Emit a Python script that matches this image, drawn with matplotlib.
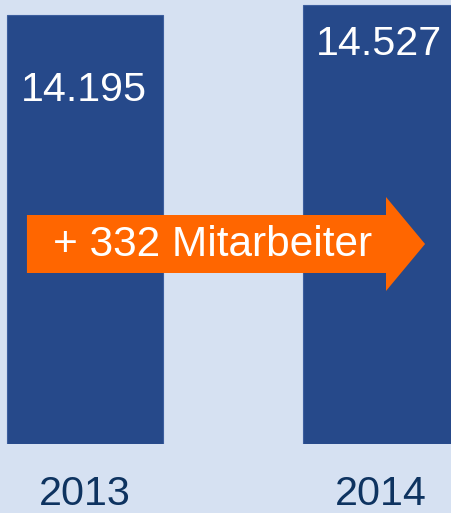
import matplotlib
matplotlib.use("Agg")
import matplotlib.pyplot as plt
from matplotlib.patches import Polygon

years = ["2013", "2014"]
employees = [14195, 14527]
value_labels = ["14.195", "14.527"]
arrow_text = "+ 332 Mitarbeiter"

BG = "#D6E1F2"
BAR = "#26498A"
ORANGE = "#FF6600"
YEAR_COL = "#0E3360"
plt.rcParams['font.family'] = ['Liberation Sans', 'DejaVu Sans']

W, H = 452, 513
fig = plt.figure(figsize=(W / 100, H / 100), dpi=100)
fig.patch.set_facecolor(BG)
base_px = 69
ax = fig.add_axes([0, base_px / H, 1, (H - base_px) / H])
ax.set_facecolor(BG)

x = list(range(len(years)))
ax.bar(x, employees, width=0.527, color=BAR, edgecolor="#3C5E9E", linewidth=0.8)
ax.set_xlim(-0.287, 1.240)
ax.set_ylim(0, employees[1] * 444 / 439)
for s in ax.spines.values():
    s.set_visible(False)
ax.set_xticks([])
ax.set_yticks([])

trans = ax.get_xaxis_transform()

def fy(py):
    return (444 - py) / 444

# value labels inside bars
label_y = [fy(90), fy(44)]
for xi, lab, ly in zip(x, value_labels, label_y):
    ax.text(xi - 0.005, ly, lab, transform=trans, ha="center", va="center",
            color="white", fontsize=29.7)

# year labels below
for xi, yr in zip(x, years):
    ax.text(xi, fy(494), yr, transform=trans, ha="center", va="center",
            color=YEAR_COL, fontsize=29.7, clip_on=False)

# orange arrow
bx0, hx0, tip = -0.196, 1.017, 1.149
pts = [(bx0, fy(215)), (hx0, fy(215)), (hx0, fy(197)), (tip, fy(244)),
       (hx0, fy(291)), (hx0, fy(273)), (bx0, fy(273))]
ax.add_patch(Polygon(pts, closed=True, transform=trans, facecolor=ORANGE,
                     edgecolor="none", zorder=3))
ax.text(0.43, fy(245), arrow_text, transform=trans, ha="center", va="center",
        color="white", fontsize=30.5, zorder=4)

fig.savefig("out.png", dpi=100, facecolor=BG)
